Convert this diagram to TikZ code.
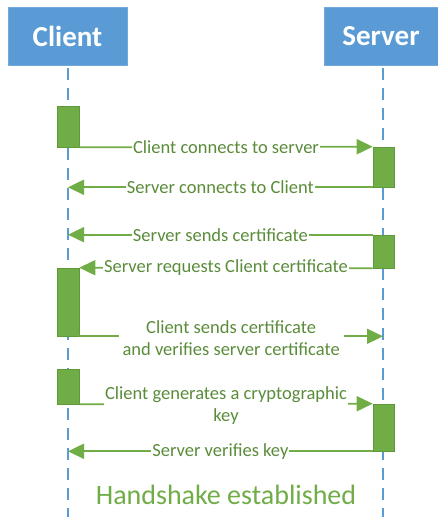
\documentclass[tikz,border=0pt]{standalone}
\usepackage{fontspec}
\setmainfont{Carlito}
\usetikzlibrary{arrows.meta}
\definecolor{hdrblue}{HTML}{5B9BD5}
\definecolor{actgreen}{HTML}{70AD47}
\definecolor{actedge}{HTML}{5E9A3A}
\definecolor{txtgreen}{HTML}{5A8C3A}
\tikzset{
  header/.style={fill=hdrblue, draw=hdrblue!85!white, line width=0.8pt, minimum width=119pt, minimum height=58pt, text=white, font=\fontsize{29}{32}\selectfont\bfseries, inner sep=0pt},
  lifeline/.style={draw=hdrblue, line width=1.6pt, dash pattern=on 12pt off 8pt},
  actbox/.style={fill=actgreen, draw=actedge, line width=0.6pt, minimum width=22pt, inner sep=0pt},
  msg/.style={draw=actgreen, line width=1.8pt, -{Triangle[length=16pt,width=15pt]}},
  lbl/.style={fill=white, text=txtgreen, font=\fontsize{18.5}{22}\selectfont, inner sep=1pt, align=center}
}
\begin{document}
\begin{tikzpicture}[x=1pt,y=-1pt]
\useasboundingbox (0,0) rectangle (437,517);
% headers
\node[header] (client) at (67.5,36) {Client};
\node[header, minimum width=114pt] (server) at (381,36) {Server};
% lifelines
\coordinate (cend) at (68,517);
\coordinate (send) at (383,517);
\draw[lifeline] (68,68) -- (cend);
\draw[lifeline] (383,68) -- (send);
\coordinate (cl) at (68,68);
\coordinate (sl) at (383,68);
% activation boxes
\node[actbox, minimum height=41pt] (ca1) at (68,126.5) {};
\node[actbox, minimum height=40pt, minimum width=21pt] (sa1) at (383.5,167) {};
\node[actbox, minimum height=33pt, minimum width=21pt] (sa2) at (383.5,251.5) {};
\node[actbox, minimum height=68pt] (ca2) at (68,302) {};
\node[actbox, minimum height=35pt] (ca3) at (68,386.5) {};
\node[actbox, minimum height=47pt, minimum width=21pt] (sa3) at (383.5,427.5) {};
% messages
\draw[msg] (ca1.south east) -- node[lbl] (m1) {Client connects to server} (sa1.north west);
\draw[msg] (sa1.south west) -- node[lbl] (m2) {Server connects to Client} (sa1.south west -| cl);
\draw[msg] (sa2.north west) -- node[lbl] (m3) {Server sends certificate} (sa2.north west -| cl);
\draw[msg] (sa2.south west) -- node[lbl] (m4) {Server requests Client certificate} (ca2.north east);
\draw[msg] (ca2.south east) -- node[lbl, yshift=-2pt, inner xsep=4pt] (m5) {Client sends certificate\\and verifies server certificate} (ca2.south east -| sl);
\draw[msg] (ca3.south east) -- node[lbl, yshift=-2pt] (m6) {Client generates a cryptographic\\key} (sa3.north west);
\draw[msg] (sa3.south west) -- node[lbl] (m7) {Server verifies key} (sa3.south west -| cl);
% footer
\node[text=actgreen, font=\fontsize{28}{30}\selectfont] (hs) at (226,495) {Handshake established};
\end{tikzpicture}
\end{document}
